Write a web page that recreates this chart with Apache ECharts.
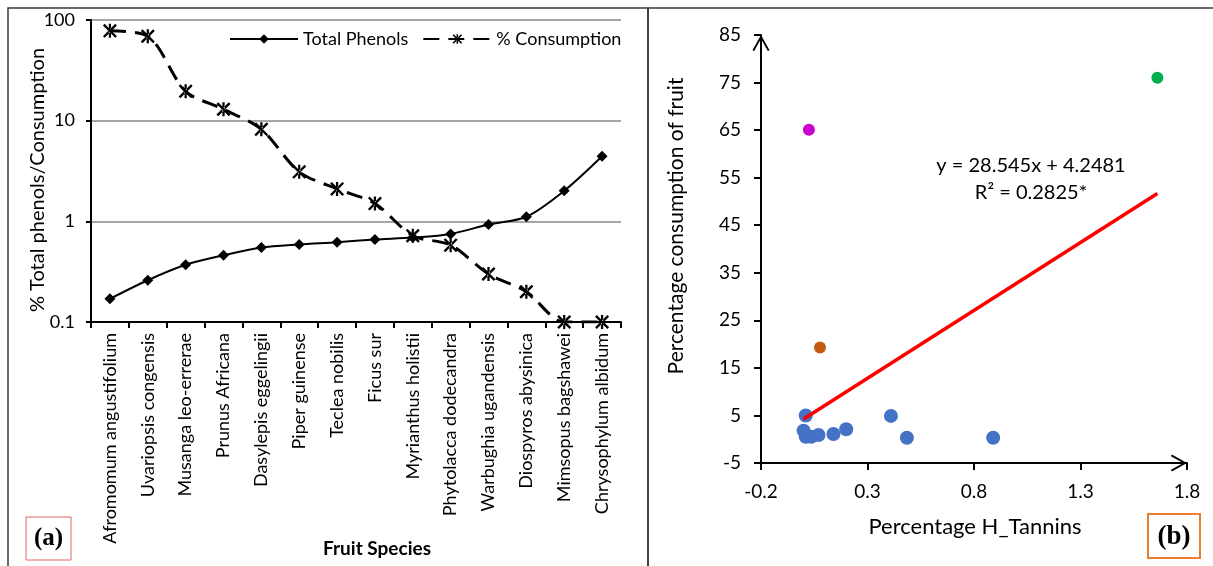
<!DOCTYPE html>
<html>
<head>
<meta charset="utf-8">
<script src="https://cdn.jsdelivr.net/npm/echarts@6/dist/echarts.min.js"></script>
<style>html,body{margin:0;padding:0;background:#fff;}#c{width:1213px;height:566px;}</style>
</head>
<body>
<div id="c"></div>
<script>
// ---- Panel (a) data ----
const categories = ['Afromomum angustifolium','Uvariopsis congensis','Musanga leo-errerae','Prunus Africana','Dasylepis eggelingii','Piper guinense','Teclea nobilis','Ficus sur','Myrianthus holistii','Phytolacca dodecandra','Warbughia ugandensis','Diospyros abysinica','Mimsopus bagshawei','Chrysophylum albidum'];
const totalPhenols = [0.17,0.26,0.37,0.46,0.55,0.59,0.62,0.66,0.69,0.75,0.93,1.11,2.01,4.43];
const consumption = [78,69,19.6,13,8.2,3.1,2.1,1.5,0.72,0.58,0.30,0.20,0.10,0.10];
const logTicks = ['0.1','1','10','100'];

// ---- Panel (b) data ----
const tanninBlue = [0.01,0.0,0.01,0.035,0.07,0.14,0.2,0.41,0.485,0.89];
const consBlue   = [5.0,1.8,0.5,0.5,0.9,1.1,2.1,4.9,0.3,0.3];
const tanninMagenta = [0.025]; const consMagenta = [65.1];
const tanninOrange  = [0.077]; const consOrange  = [19.3];
const tanninGreen   = [1.661]; const consGreen   = [76.0];
const trendSlope = 28.545, trendIntercept = 4.2481;
const xTicksB = [-0.2,0.3,0.8,1.3,1.8];
const yTicksB = [-5,5,15,25,35,45,55,65,75,85];

const zip = (xs, ys) => xs.map((x,i)=>[x,ys[i]]);
const allX = tanninBlue.concat(tanninMagenta, tanninOrange, tanninGreen);
const tx0 = Math.min(...allX), tx1 = Math.max(...allX);
const trendData = [[tx0, trendSlope*tx0+trendIntercept],[tx1, trendSlope*tx1+trendIntercept]];

const FONT = 'Lato';
const asterisk = 'path://M4.2,0 L5.8,0 L5.8,10 L4.2,10 Z M0,1.2 L1.2,0 L10,8.8 L8.8,10 Z M10,1.2 L8.8,0 L0,8.8 L1.2,10 Z';
const chevron = 'path://M0,16 L9,0 L18,16 L16.2,16.9 L9,4 L1.8,16.9 Z';

const chart = echarts.init(document.getElementById('c'), null, {renderer:'canvas'});
chart.setOption({
  animation: false,
  textStyle: {fontFamily: FONT, color: '#000'},
  legend: {
    left: 229, top: 30, padding: 0, itemWidth: 68, itemHeight: 12, itemGap: 14,
    textStyle: {fontSize: 18, fontFamily: FONT, color: '#000'},
    data: ['Total Phenols','% Consumption']
  },
  grid: [
    {left: 91, top: 20, width: 530, height: 302},
    {left: 761, top: 35, width: 426, height: 428}
  ],
  xAxis: [
    {
      gridIndex: 0, type: 'category', data: categories, boundaryGap: true,
      axisLine: {lineStyle: {color: '#000', width: 2}},
      axisTick: {show: true, interval: 0, length: 6, lineStyle: {color: '#000', width: 2}},
      axisLabel: {interval: 0, rotate: 90, margin: 11, fontSize: 18, fontFamily: FONT, color: '#000'},
      splitLine: {show: false}
    },
    {
      gridIndex: 1, type: 'value', min: -0.2, max: 1.8,
      axisLine: {show: true, onZero: false, symbol: ['none', chevron], symbolSize: [18,16], symbolOffset: [0,-8], lineStyle: {color: '#000', width: 2}},
      axisTick: {show: true, length: 7, customValues: xTicksB, lineStyle: {color: '#000', width: 2}},
      axisLabel: {fontSize: 19, margin: 19, fontFamily: FONT, color: '#000', customValues: xTicksB, formatter: v => v.toFixed(1)},
      splitLine: {show: false}
    }
  ],
  yAxis: [
    {
      gridIndex: 0, type: 'log', logBase: 10, min: 0.1, max: 100,
      axisLine: {show: true, lineStyle: {color: '#000', width: 2}},
      axisTick: {show: true, length: 5, lineStyle: {color: '#000', width: 2}},
      axisLabel: {fontSize: 18, margin: 16, fontFamily: FONT, color: '#000', formatter: v => logTicks[Math.round(Math.log10(v))+1]},
      splitLine: {show: true, lineStyle: {color: '#a6a6a6', width: 2}},
      minorTick: {show: false}
    },
    {
      gridIndex: 1, type: 'value', min: -5, max: 85,
      axisLine: {show: true, onZero: false, symbol: ['none', chevron], symbolSize: [18,16], symbolOffset: [0,-8], lineStyle: {color: '#000', width: 2}},
      axisTick: {show: true, length: 7, customValues: yTicksB, lineStyle: {color: '#000', width: 2}},
      axisLabel: {fontSize: 19, margin: 20, fontFamily: FONT, color: '#000', customValues: yTicksB},
      splitLine: {show: false}
    }
  ],
  series: [
    {
      name: 'Total Phenols', type: 'line', xAxisIndex: 0, yAxisIndex: 0, data: totalPhenols,
      smooth: 0.3, symbol: 'diamond', symbolSize: 11,
      lineStyle: {color: '#000', width: 2}, itemStyle: {color: '#000'}, z: 3
    },
    {
      name: '% Consumption', type: 'line', xAxisIndex: 0, yAxisIndex: 0, data: consumption,
      smooth: 0.3, symbol: asterisk, symbolSize: 14,
      lineStyle: {color: '#000', width: 3, type: [16, 9]}, itemStyle: {color: '#000'}, z: 3
    },
    {
      name: 'trend', type: 'line', xAxisIndex: 1, yAxisIndex: 1, data: trendData,
      symbol: 'none', lineStyle: {color: '#ff0000', width: 3.5}, z: 2
    },
    {type: 'scatter', xAxisIndex: 1, yAxisIndex: 1, data: zip(tanninBlue, consBlue), symbolSize: 14, itemStyle: {color: '#4472c4', opacity: 1}, z: 1},
    {type: 'scatter', xAxisIndex: 1, yAxisIndex: 1, data: zip(tanninMagenta, consMagenta), symbolSize: 12, itemStyle: {color: '#cc00cc', opacity: 1}},
    {type: 'scatter', xAxisIndex: 1, yAxisIndex: 1, data: zip(tanninOrange, consOrange), symbolSize: 12, itemStyle: {color: '#c55a11', opacity: 1}},
    {type: 'scatter', xAxisIndex: 1, yAxisIndex: 1, data: zip(tanninGreen, consGreen), symbolSize: 12, itemStyle: {color: '#00b050', opacity: 1}}
  ],
  graphic: [
    {type: 'rect', shape: {x: 8, y: 8, width: 640, height: 600}, style: {fill: 'none', stroke: '#3a3a3a', lineWidth: 1.5}, silent: true},
    {type: 'rect', shape: {x: 648, y: 8, width: 600, height: 600}, style: {fill: 'none', stroke: '#3a3a3a', lineWidth: 1.5}, silent: true},
    {type: 'text', x: 38, y: 180, rotation: Math.PI/2, style: {text: '% Total phenols/Consumption', font: '20px ' + FONT, fill: '#000', align: 'center', verticalAlign: 'middle'}},
    {type: 'text', x: 377, y: 549, style: {text: 'Fruit Species', font: 'bold 19px ' + FONT, fill: '#000', align: 'center', verticalAlign: 'middle'}},
    {type: 'rect', shape: {x: 26, y: 517, width: 45, height: 43}, style: {fill: 'none', stroke: '#e06666', lineWidth: 1}},
    {type: 'text', x: 48.5, y: 539, style: {text: '(a)', font: 'bold 25px "Liberation Serif"', fill: '#000', align: 'center', verticalAlign: 'middle'}},
    {type: 'text', x: 676, y: 226, rotation: Math.PI/2, style: {text: 'Percentage consumption of fruit', font: '21px ' + FONT, fill: '#000', align: 'center', verticalAlign: 'middle'}},
    {type: 'text', x: 975, y: 527, style: {text: 'Percentage H_Tannins', font: '22px ' + FONT, fill: '#000', align: 'center', verticalAlign: 'middle'}},
    {type: 'text', x: 1031, y: 166, style: {text: 'y = 28.545x + 4.2481', font: '20px ' + FONT, fill: '#000', align: 'center', verticalAlign: 'middle'}},
    {type: 'text', x: 1031, y: 193, style: {text: 'R² = 0.2825*', font: '20px ' + FONT, fill: '#000', align: 'center', verticalAlign: 'middle'}},
    {type: 'rect', shape: {x: 1148, y: 514, width: 52, height: 44}, style: {fill: 'none', stroke: '#ed7d31', lineWidth: 2}},
    {type: 'text', x: 1174, y: 537, style: {text: '(b)', font: 'bold 27px "Liberation Serif"', fill: '#000', align: 'center', verticalAlign: 'middle'}}
  ]
});
</script>
</body>
</html>
